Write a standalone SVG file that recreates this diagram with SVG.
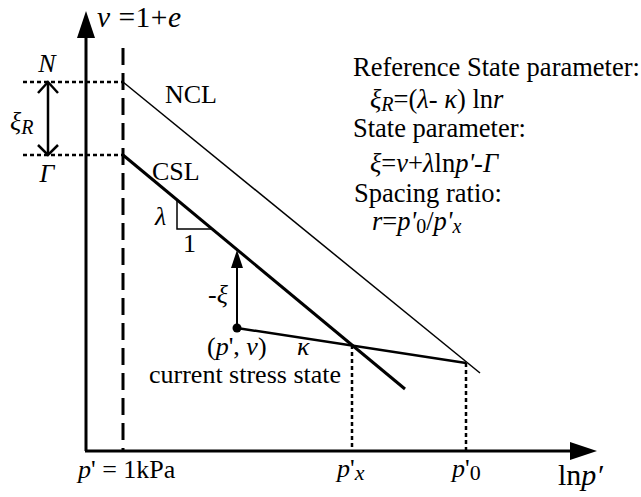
<svg xmlns="http://www.w3.org/2000/svg" width="641" height="497" viewBox="0 0 641 497" font-family="Liberation Serif, Times New Roman, serif">
<style>
text{font-family:"Liberation Serif","Times New Roman",serif;font-size:26px;fill:#000}
.i{font-style:italic}
.ax{stroke:#000;stroke-width:3;fill:none}
.dot{stroke:#000;stroke-width:2.5;stroke-dasharray:4,3;fill:none}
.dash{stroke:#000;stroke-width:3;stroke-dasharray:17,8;fill:none}
.thin{stroke:#000;stroke-width:1.5;fill:none}
.thick{stroke:#000;stroke-width:3;fill:none}
.med{stroke:#000;stroke-width:2.5;fill:none}
.lg{font-size:26.5px}
</style>
<rect width="641" height="497" fill="#fff"/>
<g id="axes">
<line class="ax" x1="86" y1="451" x2="86" y2="34"/>
<polygon points="86,11 77,38 95,38" fill="#000"/>
<line class="ax" x1="85" y1="451" x2="574" y2="451"/>
<polygon points="597,451 570,442 570,460" fill="#000"/>
<text id="ylabel" x="97" y="27" style="font-size:29.5px" letter-spacing="0.5"><tspan class="i">v</tspan> =1+<tspan class="i">e</tspan></text>
<text id="xlabel" x="558" y="485" style="font-size:30px">ln<tspan class="i">p′</tspan></text>
</g>
<g id="connectors">
<line class="dash" x1="123" y1="48" x2="123" y2="451"/>
<line class="dot" x1="23" y1="82" x2="123" y2="82"/>
<line class="dot" x1="23" y1="155" x2="123" y2="155"/>
<line class="med" x1="48" y1="83" x2="48" y2="154"/>
<polyline class="med" points="38,93 48,82 58,93"/>
<polyline class="med" points="38,145 48,155 58,145"/>
<line id="ncl-line" class="thin" x1="123" y1="82" x2="480" y2="373"/>
<line id="csl-line" class="thick" x1="123" y1="155" x2="405" y2="389"/>
<line id="kappa-line" class="med" x1="237" y1="328" x2="466" y2="363"/>
<polyline class="thin" points="177,200 177,229 212,229"/>
<line class="ax" x1="237" y1="328" x2="237" y2="266" style="stroke-width:2"/>
<polygon points="237,250 231,268 243,268" fill="#000"/>
<line class="dot" x1="352" y1="345" x2="352" y2="451"/>
<line class="dot" x1="466" y1="363" x2="466" y2="451"/>
</g>
<g id="N"><text class="i" x="47" y="72" text-anchor="middle">N</text></g>
<g id="Gamma"><text class="i" x="47" y="182" text-anchor="middle">Γ</text></g>
<g id="xiR"><text x="10" y="130"><tspan class="i">ξ</tspan><tspan class="i" dy="4" style="font-size:20px">R</tspan></text></g>
<g id="NCL"><text x="165" y="103">NCL</text></g>
<g id="CSL"><text x="152" y="180">CSL</text></g>
<g id="lambda"><text class="i" x="155" y="225">λ</text><text x="183" y="252">1</text></g>
<g id="minus-xi"><text x="208" y="303">-<tspan class="i">ξ</tspan></text></g>
<g id="state">
<circle cx="237" cy="328" r="4.5" fill="#000"/>
<text x="207" y="355">(<tspan class="i">p</tspan>', <tspan class="i">v</tspan>)</text>
<text x="149" y="383">current stress state</text>
</g>
<g id="kappa"><text class="i" x="297" y="355">κ</text></g>
<g id="p1kPa"><text x="78" y="478"><tspan class="i">p</tspan>' = 1kPa</text></g>
<g id="px"><text x="337" y="477"><tspan class="i">p</tspan>'<tspan class="i" dy="3" style="font-size:22px">x</tspan></text></g>
<g id="p0"><text x="452" y="477"><tspan class="i">p</tspan>'<tspan dy="3" style="font-size:22px">0</tspan></text></g>
<g id="legend">
<text class="lg" x="353" y="76">Reference State parameter:</text>
<text class="lg" x="370" y="108"><tspan class="i">ξ</tspan><tspan class="i" dy="3" style="font-size:20px">R</tspan><tspan dy="-3">=(</tspan><tspan class="i">λ</tspan>- <tspan class="i">κ</tspan>) ln<tspan class="i">r</tspan></text>
<text class="lg" x="353" y="137">State parameter:</text>
<text class="lg" x="370" y="172"><tspan class="i">ξ</tspan>=<tspan class="i">v</tspan>+<tspan class="i">λ</tspan>ln<tspan class="i">p'</tspan>-<tspan class="i">Γ</tspan></text>
<text class="lg" x="354" y="202">Spacing ratio:</text>
<text class="lg" x="372" y="230"><tspan class="i">r</tspan>=<tspan class="i">p'</tspan><tspan dy="3" style="font-size:20px">0</tspan><tspan dy="-3">/</tspan><tspan class="i">p'</tspan><tspan class="i" dy="3" style="font-size:20px">x</tspan></text>
</g>
</svg>
